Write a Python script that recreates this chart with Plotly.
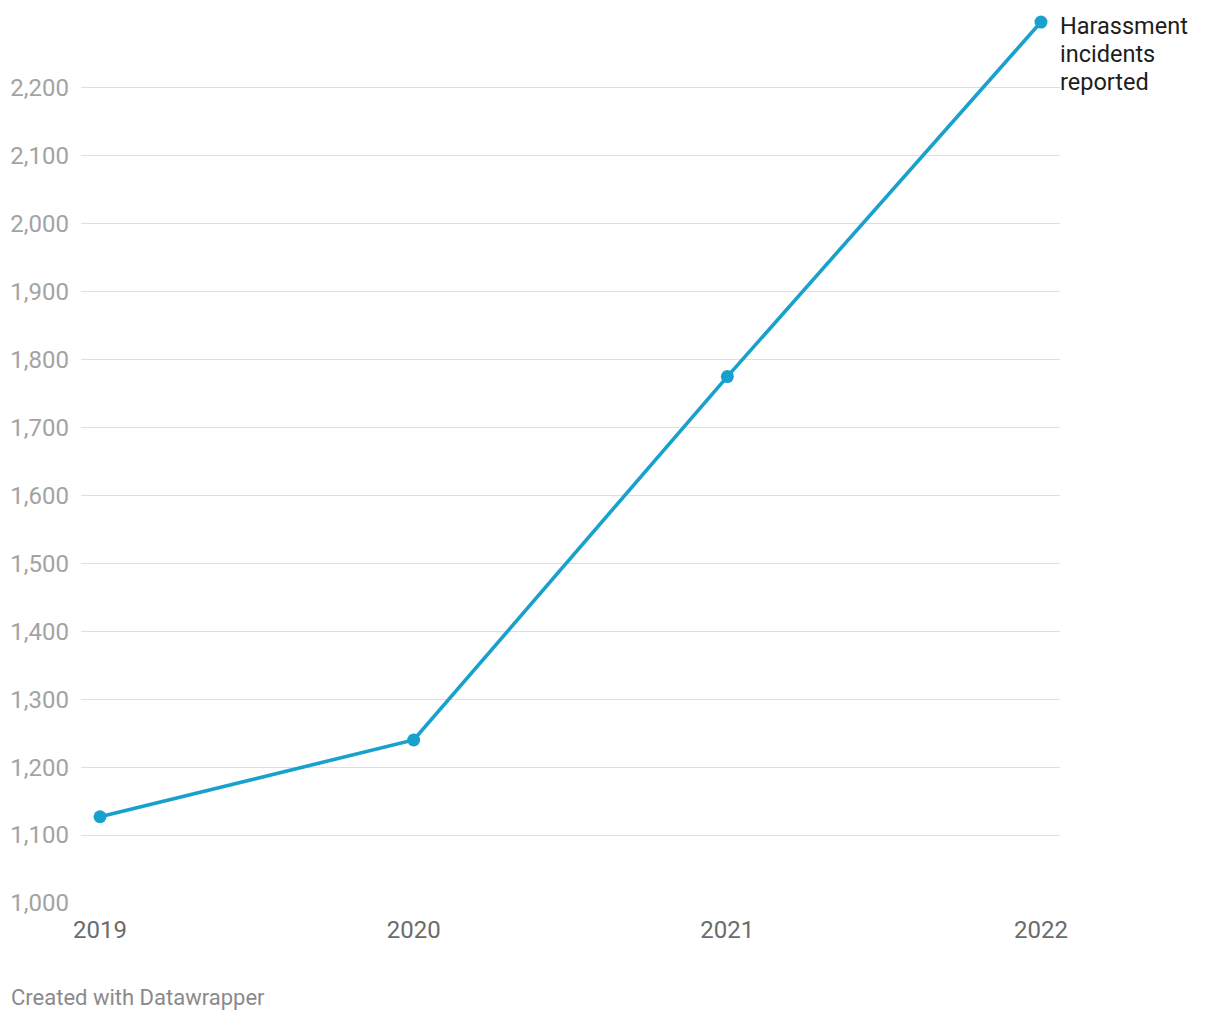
import plotly.graph_objects as go

years = [2019, 2020, 2021, 2022]
incidents = [1127, 1240, 1775, 2297]
y_ticks = [1000, 1100, 1200, 1300, 1400, 1500, 1600, 1700, 1800, 1900, 2000, 2100, 2200]
y_tick_labels = ["1,000", "1,100", "1,200", "1,300", "1,400", "1,500", "1,600",
                 "1,700", "1,800", "1,900", "2,000", "2,100", "2,200"]
x_tick_labels = ["2019", "2020", "2021", "2022"]
series_label_lines = ["Harassment", "incidents", "reported"]
footer = "Created with Datawrapper"

LINE = "#18a1cd"
FONT = "Roboto"

fig = go.Figure()
fig.add_trace(go.Scatter(
    x=years, y=incidents, mode="lines+markers",
    line=dict(color=LINE, width=3.6),
    marker=dict(color=LINE, size=13),
    cliponaxis=False, showlegend=False, hoverinfo="x+y",
))

for i, txt in enumerate(series_label_lines):
    fig.add_annotation(
        x=years[-1], y=incidents[-1], xref="x", yref="y",
        text=txt, showarrow=False, xanchor="left", yanchor="middle",
        align="left", xshift=17, yshift=-4 - 28 * i,
        font=dict(family=FONT, size=23.5, color="#1d1d1d"),
    )

fig.add_annotation(
    x=0, y=0, xref="paper", yref="paper", xanchor="left", yanchor="middle",
    text=footer, showarrow=False, xshift=-72, yshift=-94,
    font=dict(family=FONT, size=22, color="#8a8a8a"),
)

fig.update_layout(
    width=1204, height=1004,
    margin=dict(l=73, r=152, t=12, b=109, pad=0),
    paper_bgcolor="white", plot_bgcolor="white",
    font=dict(family=FONT),
    xaxis=dict(
        range=[2018.9394, 2022.0606], tickvals=years, ticktext=x_tick_labels,
        showgrid=False, zeroline=False, showline=False, ticks="",
        tickfont=dict(family=FONT, size=24, color="#6b6b6b"),
        ticklabelstandoff=10, fixedrange=True, automargin=False,
    ),
    yaxis=dict(
        range=[1000, 2300], tickvals=y_ticks, ticktext=y_tick_labels,
        showgrid=True, gridcolor="#dedede", gridwidth=1.3,
        zeroline=False, showline=False, ticks="",
        tickfont=dict(family=FONT, size=24, color="#a3a3a3"),
        ticklabelstandoff=11, fixedrange=True, automargin=False,
    ),
)

fig.write_html("out.html")
